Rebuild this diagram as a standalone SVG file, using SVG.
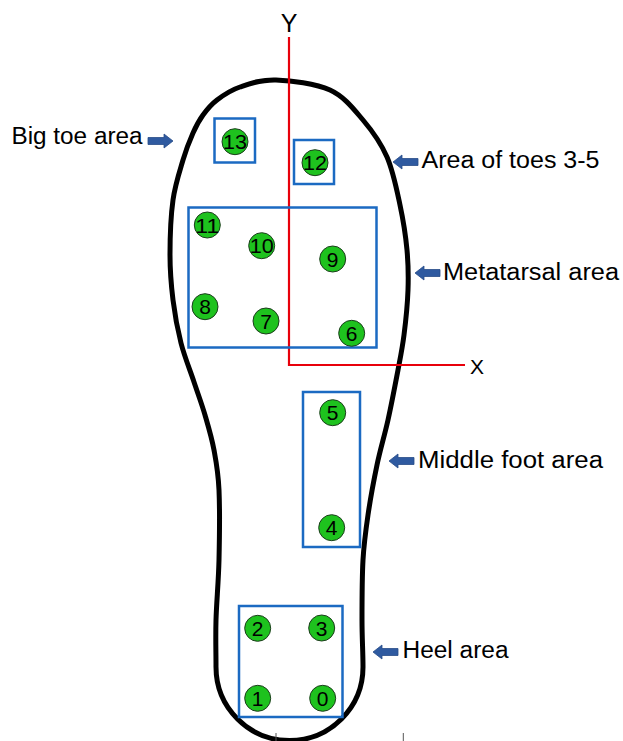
<svg xmlns="http://www.w3.org/2000/svg" width="623" height="741" viewBox="0 0 623 741">
<style>
.sole{fill:none;stroke:#000;stroke-width:5;stroke-linejoin:round}
.box{fill:none;stroke:#1b6ac2;stroke-width:2.5}
.pt{fill:#1ec21e;stroke:#1d3d1d;stroke-width:1}
.num{font-family:"Liberation Sans",Arial,sans-serif;font-size:21px;fill:#000;text-anchor:middle}
.lbl{font-family:"Liberation Sans",Arial,sans-serif;font-size:23px;fill:#000}
.axis{fill:none;stroke:#e8000b;stroke-width:2.2}
.axl{font-family:"Liberation Sans",Arial,sans-serif;fill:#000;text-anchor:middle}
.arr{fill:#2f5aa0;stroke:#274b88;stroke-width:0.8}
.tick{stroke:#555;stroke-width:1}
</style>
<defs>
<path id="la" d="M0,0 L9,-7 L9,-3.5 L25,-3.5 L25,3.5 L9,3.5 L9,7 Z"/>
</defs>
<rect width="623" height="741" fill="#fff"/>
<g id="sole">
<path class="sole" d="M276,80 C291,80.5 315.5,83.3 330,90 C344.5,96.7 353.5,108.8 363,120 C372.5,131.2 380.8,142.8 387,157 C393.2,171.2 396.7,189.5 400,205 C403.3,220.5 405.7,235.8 407,250 C408.3,264.2 408.5,275.8 408,290 C407.5,304.2 405.7,321.7 404,335 C402.3,348.3 400.7,355.8 398,370 C395.3,384.2 391.5,404.2 388,420 C384.5,435.8 380.3,449.2 377,465 C373.7,480.8 370.3,499.2 368,515 C365.7,530.8 364,542.5 363,560 C362,577.5 362,602.2 362,620 C362,637.8 363,652 363,667 A73.5,73.5 0 0 1 216,667 C216,652 215.5,637.8 216,620 C216.5,602.2 218.5,581.7 219,560 C219.5,538.3 219.8,508.3 219,490 C218.2,471.7 216.3,462.5 214,450 C211.7,437.5 208.3,426.3 205,415 C201.7,403.7 198,394 194,382 C190,370 184.5,356.7 181,343 C177.5,329.3 174.8,314.7 173,300 C171.2,285.3 170,271.7 170,255 C170,238.3 170.8,215.8 173,200 C175.2,184.2 179.7,171.2 183,160 C186.3,148.8 189.7,140.5 193,133 C196.3,125.5 199,120.5 203,115 C207,109.5 210.8,104.7 217,100 C223.2,95.3 230.2,90.3 240,87 C249.8,83.7 261,79.5 276,80 Z"/>
</g>
<g id="ticks">
<line class="tick" x1="276" y1="733" x2="276" y2="741"/>
<line class="tick" x1="403.3" y1="733" x2="403.3" y2="741"/>
</g>
<g id="connectors">
<polyline class="axis" points="289,37 289,365 465,365"/>
<text class="axl" x="289" y="32" font-size="25">Y</text>
<text class="axl" x="477" y="374" font-size="21">X</text>
<use href="#la" class="arr" transform="translate(173,141) scale(-1,1)"/>
<use href="#la" class="arr" transform="translate(393,162)"/>
<use href="#la" class="arr" transform="translate(415,273)"/>
<use href="#la" class="arr" transform="translate(389,461)"/>
<use href="#la" class="arr" transform="translate(373,652)"/>
</g>
<g id="area-bigtoe">
<rect class="box" x="214.5" y="118.5" width="40.5" height="44"/>
<text class="lbl" x="11.5" y="143.5" textLength="131" lengthAdjust="spacingAndGlyphs">Big toe area</text>
</g>
<g id="area-toes35">
<rect class="box" x="294" y="140" width="40" height="44"/>
<text class="lbl" x="421.5" y="168" textLength="178" lengthAdjust="spacingAndGlyphs">Area of toes 3-5</text>
</g>
<g id="area-metatarsal">
<rect class="box" x="188.5" y="207.5" width="188" height="140"/>
<text class="lbl" x="443" y="280" textLength="176" lengthAdjust="spacingAndGlyphs">Metatarsal area</text>
</g>
<g id="area-midfoot">
<rect class="box" x="303" y="392" width="57" height="155"/>
<text class="lbl" x="418" y="468" textLength="185" lengthAdjust="spacingAndGlyphs">Middle foot area</text>
</g>
<g id="area-heel">
<rect class="box" x="239" y="606" width="103.5" height="111"/>
<text class="lbl" x="402.5" y="658" textLength="106" lengthAdjust="spacingAndGlyphs">Heel area</text>
</g>
<g id="s13"><circle class="pt" cx="235" cy="141.7" r="13"/><text class="num" x="235" y="149.2" textLength="24" lengthAdjust="spacingAndGlyphs">13</text></g>
<g id="s12"><circle class="pt" cx="315" cy="162.7" r="13"/><text class="num" x="315" y="170.2" textLength="24" lengthAdjust="spacingAndGlyphs">12</text></g>
<g id="s11"><circle class="pt" cx="207.3" cy="225" r="13"/><text class="num" x="207.3" y="232.5" textLength="24" lengthAdjust="spacingAndGlyphs">11</text></g>
<g id="s10"><circle class="pt" cx="261.7" cy="245.7" r="13"/><text class="num" x="261.7" y="253.2" textLength="24" lengthAdjust="spacingAndGlyphs">10</text></g>
<g id="s9"><circle class="pt" cx="332.7" cy="259" r="13"/><text class="num" x="332.7" y="266.5">9</text></g>
<g id="s8"><circle class="pt" cx="205" cy="306.7" r="13"/><text class="num" x="205" y="314.2">8</text></g>
<g id="s7"><circle class="pt" cx="266" cy="321" r="13"/><text class="num" x="266" y="328.5">7</text></g>
<g id="s6"><circle class="pt" cx="351.7" cy="333.3" r="13"/><text class="num" x="351.7" y="340.8">6</text></g>
<g id="s5"><circle class="pt" cx="332.7" cy="412.7" r="13"/><text class="num" x="332.7" y="420.2">5</text></g>
<g id="s4"><circle class="pt" cx="331.7" cy="527.7" r="13"/><text class="num" x="331.7" y="535.2">4</text></g>
<g id="s3"><circle class="pt" cx="321.7" cy="628" r="13"/><text class="num" x="321.7" y="635.5">3</text></g>
<g id="s2"><circle class="pt" cx="257.7" cy="628.3" r="13"/><text class="num" x="257.7" y="635.8">2</text></g>
<g id="s1"><circle class="pt" cx="257.7" cy="698.3" r="13"/><text class="num" x="257.7" y="705.8">1</text></g>
<g id="s0"><circle class="pt" cx="322.7" cy="698.3" r="13"/><text class="num" x="322.7" y="705.8">0</text></g>
</svg>
